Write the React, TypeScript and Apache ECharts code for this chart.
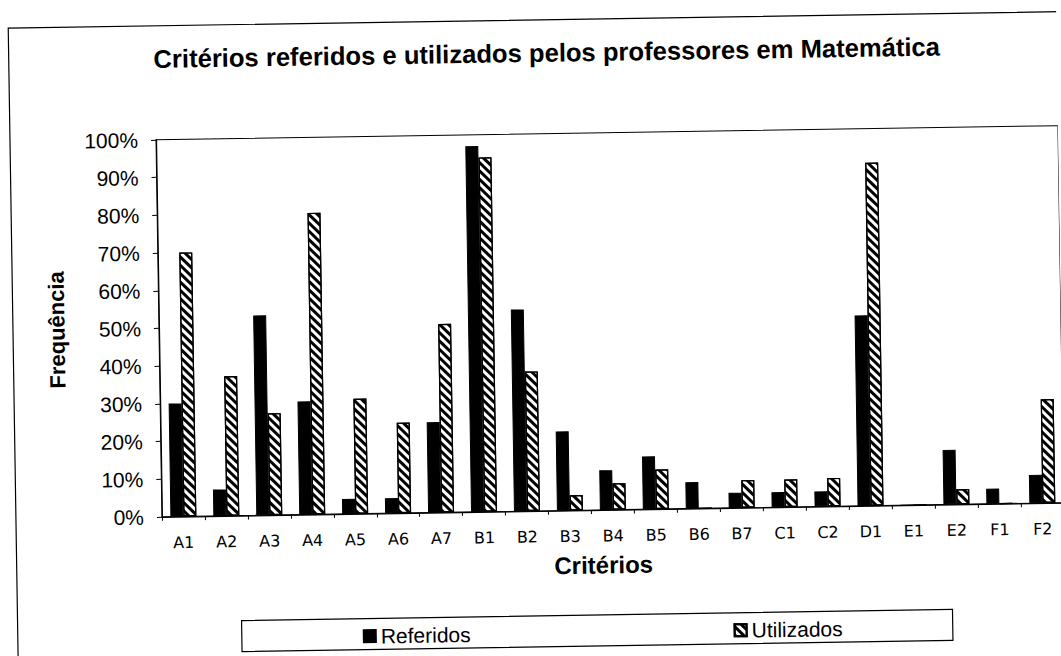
import React, { useEffect, useRef } from "react";
import * as echarts from "echarts";

const categories = ["A1", "A2", "A3", "A4", "A5", "A6", "A7", "B1", "B2", "B3", "B4", "B5", "B6", "B7", "C1", "C2", "D1", "E1", "E2", "F1", "F2"];
const referidos = [30, 7, 53, 30, 4, 4, 24, 97, 53.5, 21, 10.5, 14, 7, 4, 4, 4, 50.5, 0, 14.5, 4, 7.5];
const utilizados = [70, 37, 27, 80, 30.5, 24, 50, 94, 37, 4, 7, 10.5, 0, 7.3, 7.3, 7.5, 91, 0, 4, 0, 27.5];

const titleText = "Critérios referidos e utilizados pelos professores em Matemática";
const yName = "Frequência";
const xName = "Critérios";

export default function App() {
  const ref = useRef<HTMLDivElement>(null);
  useEffect(() => {
    if (!ref.current) return;
    const chart = echarts.init(ref.current, null, { renderer: "svg" });
    const hatch = {
      symbol: "rect",
      symbolSize: 1,
      color: "#000",
      backgroundColor: "#fff",
      dashArrayX: [[1, 0]],
      dashArrayY: [2.6, 2.6],
      rotation: Math.PI / 4,
    };
    chart.setOption({
      animation: false,
      backgroundColor: "#fff",
      title: {
        text: titleText,
        left: 546,
        top: 35,
        textAlign: "center",
        textStyle: { fontFamily: "Liberation Sans", fontWeight: "bold", fontSize: 25.6, color: "#000" },
      },
      legend: {
        left: 353,
        top: 618,
        itemWidth: 12,
        itemHeight: 12,
        itemGap: 263,
        icon: "rect",
        textStyle: { fontFamily: "Liberation Sans", fontSize: 21, color: "#000" },
        data: ["Referidos", "Utilizados"],
      },
      grid: { left: 159, right: -5, top: 134, bottom: 145, show: true, borderColor: "#000", borderWidth: 1 },
      xAxis: {
        type: "category",
        data: categories,
        axisLine: { lineStyle: { color: "#000", width: 1.2 } },
        axisTick: { show: true, length: 4, lineStyle: { color: "#000" } },
        axisLabel: { margin: 18, fontFamily: "DejaVu Sans", fontSize: 16, color: "#000", interval: 0 },
      },
      yAxis: {
        type: "value",
        min: 0,
        max: 100,
        interval: 10,
        name: yName,
        nameLocation: "middle",
        nameGap: 91,
        nameRotate: 90,
        nameTextStyle: { fontFamily: "Liberation Sans", fontWeight: "bold", fontSize: 22, color: "#000" },
        axisLine: { show: true, lineStyle: { color: "#000", width: 1.2 } },
        axisTick: { show: true, length: 5, lineStyle: { color: "#000" } },
        axisLabel: { margin: 18, formatter: "{value}%", fontFamily: "Liberation Sans", fontSize: 21, color: "#000" },
        splitLine: { show: false },
      },
      graphic: [
        { type: "rect", shape: { x: 13, y: 20, width: 1100, height: 700 }, style: { fill: "none", stroke: "#000", lineWidth: 1.2 }, silent: true },
        { type: "rect", shape: { x: 237, y: 616, width: 711, height: 31 }, style: { fill: "none", stroke: "#000", lineWidth: 1.2 }, silent: true },
        {
          type: "text",
          x: 600,
          y: 566,
          style: { text: xName, fontFamily: "Liberation Sans", fontWeight: "bold", fontSize: 24, fill: "#000", align: "center", verticalAlign: "middle" },
        },
      ],
      series: [
        {
          name: "Referidos",
          type: "bar",
          data: referidos,
          barWidth: 13,
          barGap: "0%",
          itemStyle: { color: "#000", borderColor: "#000", borderWidth: 1 },
        },
        {
          name: "Utilizados",
          type: "bar",
          data: utilizados,
          barWidth: 13,
          barGap: "0%",
          itemStyle: { color: "#fff", borderColor: "#000", borderWidth: 1.2, decal: hatch },
        },
      ],
    });
    return () => chart.dispose();
  }, []);
  return (
    <div
      ref={ref}
      style={{ position: "absolute", left: 0, top: 0, width: 1061, height: 656, transform: "rotate(-0.9deg)", background: "#fff" }}
    />
  );
}
